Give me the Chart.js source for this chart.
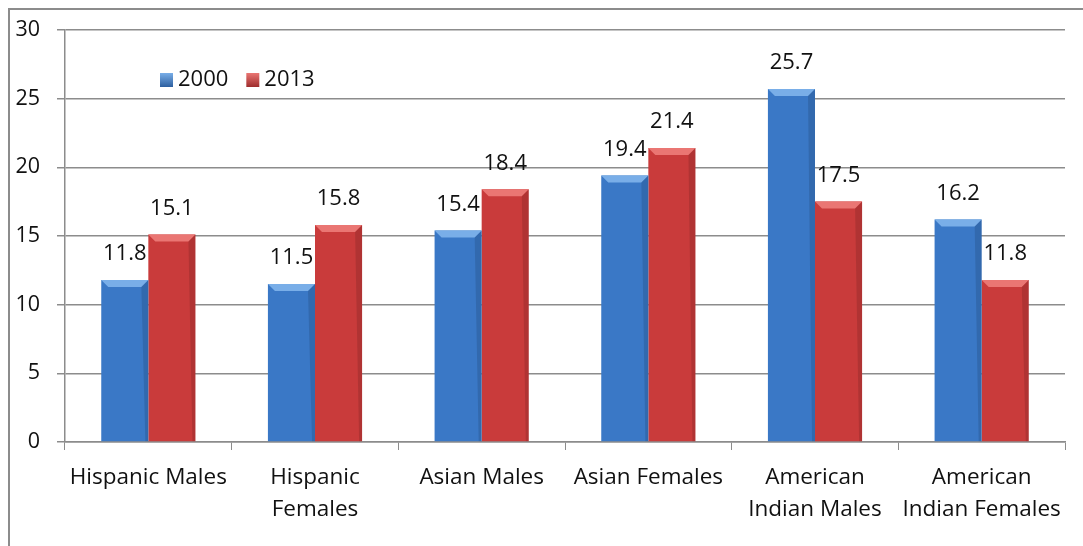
<!DOCTYPE html>
<html>
<head>
<meta charset="utf-8">
<script src="https://cdn.jsdelivr.net/npm/chart.js@4"></script>
<style>
  html, body { margin: 0; padding: 0; background: #fff; }
  #wrap { position: relative; width: 1083px; height: 546px; overflow: hidden; }
  #frame { position: absolute; left: 8px; top: 8px; width: 1200px; height: 700px;
           border-left: 2px solid #8c8c8c; border-top: 2px solid #8c8c8c; }
  canvas { position: absolute; left: 0; top: 0; }
</style>
</head>
<body>
<div id="wrap">
  <div id="frame"></div>
  <canvas id="chart" width="1083" height="546"></canvas>
</div>
<script>
// ─── DATA ────────────────────────────────────────────────────────
const groups = [
  'Hispanic Males',
  ['Hispanic', 'Females'],
  'Asian Males',
  'Asian Females',
  ['American', 'Indian Males'],
  ['American', 'Indian Females'],
];
const years    = ['2000', '2013'];
const vals2000 = [11.8, 11.5, 15.4, 19.4, 25.7, 16.2];
const vals2013 = [15.1, 15.8, 18.4, 21.4, 17.5, 11.8];
const yTicks   = [0, 5, 10, 15, 20, 25, 30];

const FONT = "'Open Sans', sans-serif";

// shading per series: [dark edge, body, light centre, bevel]
const SHADES = {
  blue: ['#2d5f9f', '#3a78c6', '#4a8ad6', '#79aee8'],
  red:  ['#9e2c2c', '#c93b3b', '#d94a48', '#ea7673'],
};

// horizontal gradient across each bar so it reads like a rounded column
function barFill(key) {
  return ctx => {
    const el = ctx.element;
    if (!el || el.width === undefined) return SHADES[key][1];
    const c = ctx.chart.ctx;
    const x0 = el.x - el.width / 2, x1 = el.x + el.width / 2;
    const g = c.createLinearGradient(x0, 0, x1, 0);
    const s = SHADES[key];
    g.addColorStop(0,    s[1]);
    g.addColorStop(0.35, s[2]);
    g.addColorStop(0.8,  s[1]);
    g.addColorStop(1,    s[0]);
    return g;
  };
}

// ─── BEVELLED TOP + VALUE LABELS ─────────────────────────────────
const barDecor = {
  id: 'barDecor',
  afterDatasetsDraw(chart) {
    const c = chart.ctx;
    chart.data.datasets.forEach((ds, di) => {
      const s = SHADES[ds.shade];
      chart.getDatasetMeta(di).data.forEach((bar, i) => {
        const l = bar.x - bar.width / 2, r = bar.x + bar.width / 2, t = bar.y;
        const b = 7;
        c.save();
        // bevel strip on the column top
        c.fillStyle = s[3];
        c.beginPath();
        c.moveTo(l, t); c.lineTo(r, t); c.lineTo(r - b, t + b); c.lineTo(l + b, t + b);
        c.closePath(); c.fill();
        // darker side bevel
        c.fillStyle = 'rgba(0,0,0,0.12)';
        c.beginPath();
        c.moveTo(r, t); c.lineTo(r, bar.base); c.lineTo(r - 3, bar.base); c.lineTo(r - b, t + b);
        c.closePath(); c.fill();
        c.restore();

        // value label above the column
        c.save();
        c.font = `22px ${FONT}`;
        c.fillStyle = '#111';
        c.textAlign = 'center';
        c.textBaseline = 'middle';
        c.fillText(ds.data[i].toFixed(1), bar.x, t - 26);
        c.restore();
      });
    });
  },
};

// ─── LEGEND INSIDE PLOT ──────────────────────────────────────────
const innerLegend = {
  id: 'innerLegend',
  afterDraw(chart) {
    const c = chart.ctx;
    let x = 160;
    const y = 80;
    chart.data.datasets.forEach(ds => {
      const s = SHADES[ds.shade];
      const g = c.createLinearGradient(0, y - 7, 0, y + 7);
      g.addColorStop(0, s[3]);
      g.addColorStop(1, s[0]);
      c.fillStyle = g;
      c.fillRect(x, y - 7, 13, 14);
      c.font = `22px ${FONT}`;
      c.fillStyle = '#111';
      c.textAlign = 'left';
      c.textBaseline = 'middle';
      c.fillText(ds.label, x + 18, y);
      x += 18 + c.measureText(ds.label).width + 18;
    });
  },
};

// ─── CHART ───────────────────────────────────────────────────────
new Chart(document.getElementById('chart'), {
  type: 'bar',
  data: {
    labels: groups,
    datasets: [
      { label: years[0], data: vals2000, shade: 'blue', backgroundColor: barFill('blue') },
      { label: years[1], data: vals2013, shade: 'red',  backgroundColor: barFill('red') },
    ],
  },
  options: {
    responsive: false,
    animation: false,
    layout: { padding: { top: 26, right: 18, left: 0, bottom: 0 } },
    datasets: { bar: { categoryPercentage: 0.565, barPercentage: 1.0 } },
    plugins: { legend: { display: false }, tooltip: { enabled: false } },
    scales: {
      x: {
        afterFit: s => { s.height = 104; },
        grid: { offset: true, drawOnChartArea: false, drawTicks: true, tickLength: 8, color: '#8c8c8c' },
        border: { color: '#8c8c8c', width: 1.5 },
        ticks: { color: '#111', font: { family: FONT, size: 22.5, lineHeight: '32px' }, padding: 12, maxRotation: 0 },
      },
      y: {
        min: 0,
        max: 30,
        afterFit: s => { s.width = 65; },
        afterBuildTicks: s => { s.ticks = yTicks.map(v => ({ value: v })); },
        grid: { color: '#8c8c8c', lineWidth: 1.5, tickLength: 8 },
        border: { color: '#8c8c8c', width: 1.5 },
        ticks: { color: '#111', font: { family: FONT, size: 21.5 }, padding: 17 },
      },
    },
  },
  plugins: [barDecor, innerLegend],
});
</script>
</body>
</html>
